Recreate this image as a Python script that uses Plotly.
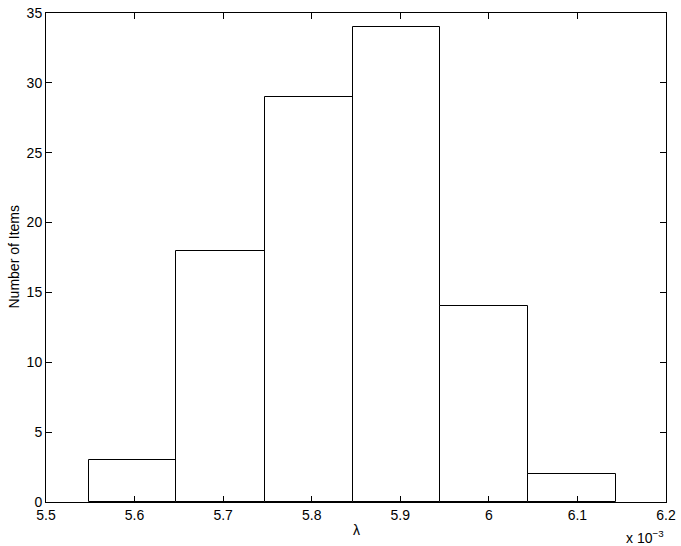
import plotly.graph_objects as go

# bin edges (in units of 1e-3) and counts
bin_edges = [5.5481, 5.6471, 5.7468, 5.8462, 5.9448, 6.0442, 6.1431]
counts = [3, 18, 29, 34, 14, 2]
x_ticks = [5.5, 5.6, 5.7, 5.8, 5.9, 6.0, 6.1, 6.2]
y_ticks = [0, 5, 10, 15, 20, 25, 30, 35]

centers = [(a + b) / 2 for a, b in zip(bin_edges[:-1], bin_edges[1:])]
widths = [b - a for a, b in zip(bin_edges[:-1], bin_edges[1:])]

fig = go.Figure(go.Bar(
    x=centers, y=counts, width=widths,
    marker=dict(color="white", line=dict(color="black", width=1)),
))

font = dict(family="Liberation Sans, Arial, sans-serif", size=14, color="black")
fig.update_layout(
    width=681, height=546,
    margin=dict(l=46, r=15, t=13, b=44),
    plot_bgcolor="white", paper_bgcolor="white",
    font=font, showlegend=False, bargap=0,
    xaxis=dict(range=[5.5, 6.2], tickvals=x_ticks,
               ticktext=[f"{v:g}" for v in x_ticks],
               ticks="inside", ticklen=6, tickcolor="black",
               showline=True, linecolor="black", linewidth=1, mirror="ticks",
               showgrid=False, zeroline=False, automargin=False),
    yaxis=dict(range=[0, 35], tickvals=y_ticks,
               ticks="inside", ticklen=6, tickcolor="black",
               showline=True, linecolor="black", linewidth=1, mirror="ticks",
               showgrid=False, zeroline=False, automargin=False),
    annotations=[
        dict(text="λ", xref="paper", yref="paper", x=0.5, y=0,
             xanchor="center", yanchor="middle", yshift=-28,
             showarrow=False, font=font),
        dict(text="Number of Items", xref="paper", yref="paper", x=0, y=0.5,
             xanchor="center", yanchor="middle", xshift=-33, textangle=-90,
             showarrow=False, font=font),
        dict(text="x 10<sup>−3</sup>", xref="paper", yref="paper",
             x=1.0, y=0, xanchor="right", yanchor="top", yshift=-24,
             showarrow=False, font=font),
    ],
)

fig.write_html("out.html", config={"displayModeBar": False},
               post_script="document.body.style.margin='0';document.body.style.overflow='hidden';")
